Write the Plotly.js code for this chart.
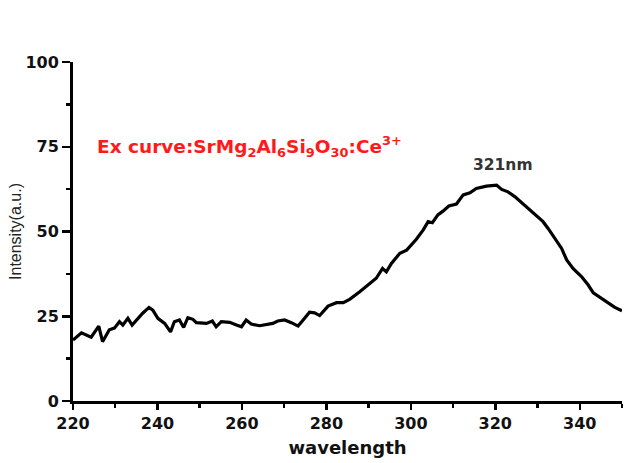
<!DOCTYPE html>
<html>
<head>
<meta charset="utf-8">
<script src="https://cdn.plot.ly/plotly-3.0.1.min.js"></script>
<style>html,body{margin:0;padding:0;background:#fff;}#chart{width:624px;height:463px;}</style>
</head>
<body>
<div id="chart"></div>
<script>
var wavelength = [220, 222, 224.3, 226.1, 227, 228.6, 229.8, 231, 231.8, 233, 234, 235.4, 236.5, 238, 238.9, 240.1, 241.7, 243.1, 244, 245.2, 246.2, 247.2, 248.4, 249.2, 251.6, 253, 253.9, 255.1, 257.1, 258.7, 259.9, 261, 262.2, 264.2, 267.3, 268.5, 270.1, 271.7, 273.3, 274.5, 276, 277.2, 278.4, 280.4, 282.4, 284, 285.5, 287.9, 289.9, 291.8, 293.3, 294.2, 295.4, 297.4, 299, 300.1, 301.3, 302.9, 304.1, 305.1, 306.4, 307.6, 309, 310.8, 312.4, 314, 315.5, 317.9, 320.3, 321.5, 323, 324.6, 326.6, 329, 331.3, 332.5, 334.1, 335.7, 336.9, 338.4, 340.4, 342, 343.2, 345.2, 346.7, 348.3, 350];
var intensity = [18, 20.1, 18.8, 22.1, 17.5, 21, 21.5, 23.4, 22.4, 24.4, 22.4, 24.4, 25.9, 27.6, 26.8, 24.4, 22.9, 20.4, 23.4, 23.9, 21.7, 24.6, 24.1, 23.1, 22.9, 23.6, 21.9, 23.4, 23.2, 22.4, 21.9, 23.9, 22.7, 22.2, 22.9, 23.6, 23.9, 23.1, 22.1, 23.9, 26.2, 26, 25.2, 28, 29, 29, 30, 32.2, 34.2, 36.2, 39.1, 38.1, 40.6, 43.6, 44.5, 46, 47.7, 50.4, 52.9, 52.6, 54.9, 56, 57.5, 58.1, 60.8, 61.4, 62.7, 63.4, 63.7, 62.4, 61.7, 60.3, 58.1, 55.3, 52.9, 50.9, 48, 45, 41.6, 39.1, 36.7, 34.2, 31.9, 30.3, 29, 27.6, 26.6];
var xTicks = [220, 240, 260, 280, 300, 320, 340];
var yTicks = [0, 25, 50, 75, 100];
var labelText = 'Ex curve:SrMg<sub>2</sub>Al<sub>6</sub>Si<sub>9</sub>O<sub>30</sub>:Ce<sup>3+</sup>';
var peakText = '321nm';

var trace = {
  x: wavelength, y: intensity, type: 'scatter', mode: 'lines',
  line: {color: '#000', width: 3.2}, hoverinfo: 'skip'
};
var tickFont = {family: 'DejaVu Sans', size: 16, color: '#111', weight: 'bold'};
var layout = {
  width: 624, height: 463,
  margin: {l: 73, r: 2, t: 62, b: 62},
  paper_bgcolor: '#fff', plot_bgcolor: '#fff',
  showlegend: false,
  xaxis: {
    range: [220, 350], tickvals: xTicks, ticktext: xTicks.map(String),
    showgrid: false, zeroline: false, showline: true, linecolor: '#000', linewidth: 3,
    ticks: 'outside', ticklen: 6, tickwidth: 2.5, tickcolor: '#000',
    minor: {dtick: 10, tick0: 220, ticks: 'outside', ticklen: 4, tickwidth: 2.5, tickcolor: '#000', showgrid: false},
    tickfont: tickFont,
    title: {text: '<b>wavelength</b>', font: {family: 'DejaVu Sans', size: 18, color: '#111'}, standoff: 10}
  },
  yaxis: {
    range: [0, 100], tickvals: yTicks, ticktext: yTicks.map(String),
    showgrid: false, zeroline: false, showline: true, linecolor: '#000', linewidth: 3,
    ticks: 'outside', ticklen: 8, tickwidth: 2.5, tickcolor: '#000',
    minor: {dtick: 12.5, tick0: 0, ticks: 'outside', ticklen: 4, tickwidth: 2.5, tickcolor: '#000', showgrid: false},
    tickfont: tickFont,
    title: {text: 'Intensity(a.u.)', font: {family: 'Liberation Sans', size: 16, color: '#222'}, standoff: 0}
  },
  annotations: [
    {x: 225.1, y: 75.2, xref: 'x', yref: 'y', xanchor: 'left', yanchor: 'middle', showarrow: false,
     text: '<b>' + labelText + '</b>', font: {family: 'DejaVu Sans', size: 18.5, color: '#ff1a1a'}},
    {x: 321.8, y: 69.6, xref: 'x', yref: 'y', xanchor: 'center', yanchor: 'middle', showarrow: false,
     text: '<b>' + peakText + '</b>', font: {family: 'DejaVu Sans', size: 15.5, color: '#333'}}
  ]
};
Plotly.newPlot('chart', [trace], layout, {displayModeBar: false, staticPlot: true});
</script>
</body>
</html>
